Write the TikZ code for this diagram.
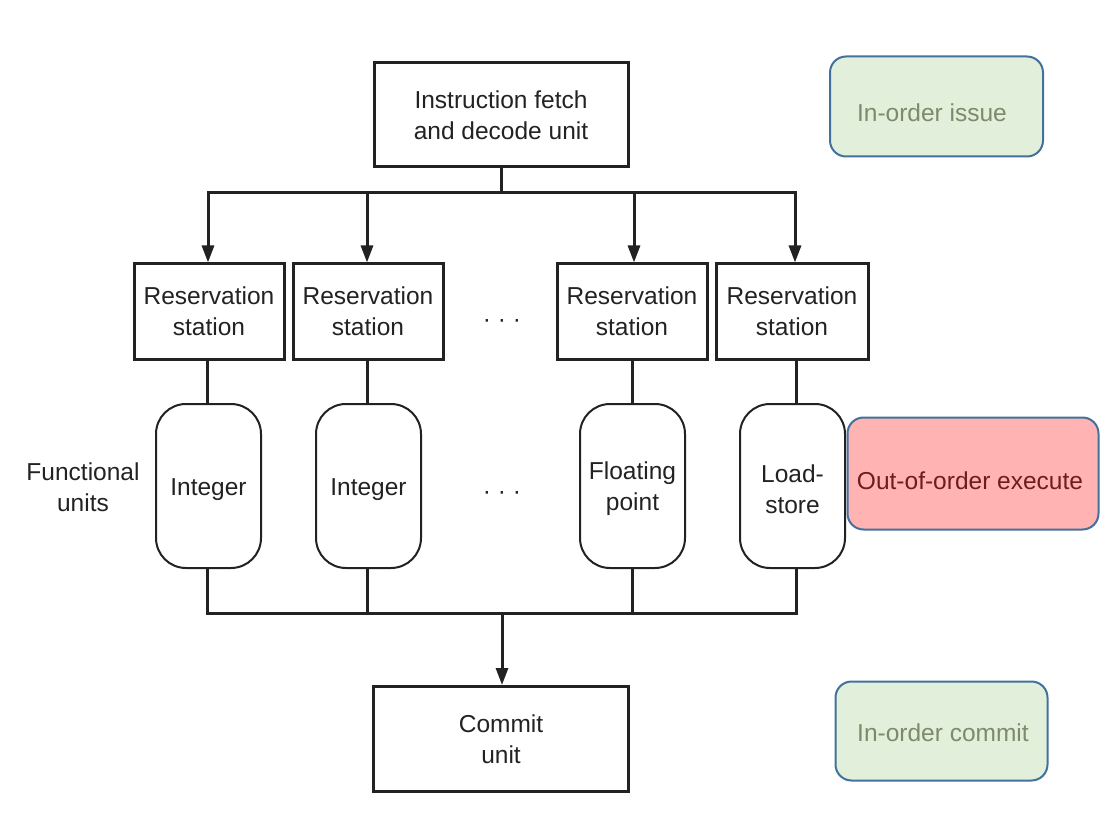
\documentclass[tikz,border=0pt]{standalone}
\usepackage{fontspec}
\setmainfont{Liberation Sans}
\usetikzlibrary{arrows.meta}
\definecolor{ink}{HTML}{222222}
\definecolor{greenfill}{HTML}{E2EFDA}
\definecolor{bluebord}{HTML}{41719C}
\definecolor{greentext}{HTML}{7E8A6C}
\definecolor{redfill}{HTML}{FFB3B3}
\definecolor{redtext}{HTML}{6E1C1C}
\tikzset{
  base/.style={font=\fontsize{24.5}{31}\selectfont, align=center, text=ink, inner sep=0pt},
  sqbox/.style={base, draw=ink, line width=3pt},
  fubox/.style={base, draw=ink, line width=2pt, rounded corners=30pt, minimum width=105pt, minimum height=164pt},
  note/.style={base, draw=bluebord, line width=2pt, rounded corners=16pt},
  wire/.style={draw=ink, line width=3pt},
  arr/.style={wire, -{Triangle[length=17pt,width=12pt]}},
}
\begin{document}
\begin{tikzpicture}[x=1pt,y=-1pt]
\useasboundingbox (0,0) rectangle (1108,826);
% main boxes
\node[sqbox, minimum width=254pt, minimum height=104pt] (fetch) at (501,115) {Instruction fetch\\and decode unit};
\node[sqbox, minimum width=150pt, minimum height=95pt] (rs1) at (209,311.5) {Reservation\\station};
\node[sqbox, minimum width=150pt, minimum height=95pt] (rs2) at (368,311.5) {Reservation\\station};
\node[sqbox, minimum width=150pt, minimum height=95pt] (rs3) at (632,311.5) {Reservation\\station};
\node[sqbox, minimum width=152pt, minimum height=95pt] (rs4) at (792,311.5) {Reservation\\station};
\node[base] (dots1) at (502,324) {· · ·};
% functional units
\node[fubox] (fu1) at (208.5,486) {};
\node[fubox] (fu2) at (368.5,486) {};
\node[fubox] (fu3) at (632.5,486) {};
\node[fubox] (fu4) at (792.5,486) {};
\node[base] (fu1t) at (208.5,490) {Integer};
\node[base] (fu2t) at (368.5,490) {Integer};
\node[base] (fu3t) at (632.5,489) {Floating\\point};
\node[base] (fu4t) at (792.5,489) {Load-\\store};
\node[base] (dots2) at (502,496) {· · ·};
\node[base] (fulabel) at (83,487) {Functional\\units};
% commit
\node[sqbox, minimum width=255pt, minimum height=105pt] (commit) at (501,739) {Commit\\unit};
% notes
\node[note, fill=greenfill, minimum width=213pt, minimum height=100pt] (issue) at (936.5,106.5) {};
\node[base, text=greentext] (issuet) at (932,113) {In-order issue};
\node[note, fill=redfill, minimum width=251pt, minimum height=112pt] (ooo) at (973,473.5) {};
\node[base, text=redtext] (ooot) at (970,481) {Out-of-order execute};
\node[note, fill=greenfill, minimum width=212pt, minimum height=99pt] (icommit) at (941.5,731) {};
\node[base, text=greentext] (icommitt) at (943,733) {In-order commit};
% top distribution bus
\coordinate (t0) at (501,193);
\coordinate (t1) at (208,193);
\coordinate (t2) at (367,193);
\coordinate (t3) at (634,193);
\coordinate (t4) at (795,193);
\draw[wire] (fetch.south) -- (t0);
\draw[wire, line cap=rect] (t1) -- (t4);
\draw[arr] (t1) -- (t1 |- rs1.north);
\draw[arr] (t2) -- (t2 |- rs2.north);
\draw[arr] (t3) -- (t3 |- rs3.north);
\draw[arr] (t4) -- (t4 |- rs4.north);
% RS to FU
\coordinate (m1) at (207,0);
\coordinate (m2) at (367,0);
\coordinate (m3) at (632,0);
\coordinate (m4) at (796,0);
\draw[wire] (m1 |- rs1.south) -- (m1 |- fu1.north);
\draw[wire] (m2 |- rs2.south) -- (m2 |- fu2.north);
\draw[wire] (m3 |- rs3.south) -- (m3 |- fu3.north);
\draw[wire] (m4 |- rs4.south) -- (m4 |- fu4.north);
% bottom bus
\coordinate (b0) at (502,613);
\coordinate (b1) at (207,613);
\coordinate (b2) at (367,613);
\coordinate (b3) at (632,613);
\coordinate (b4) at (796,613);
\draw[wire] (m1 |- fu1.south) -- (b1);
\draw[wire] (m2 |- fu2.south) -- (b2);
\draw[wire] (m3 |- fu3.south) -- (b3);
\draw[wire] (m4 |- fu4.south) -- (b4);
\draw[wire, line cap=rect] (b1) -- (b4);
\draw[arr] (b0) -- (b0 |- commit.north);
\end{tikzpicture}
\end{document}
